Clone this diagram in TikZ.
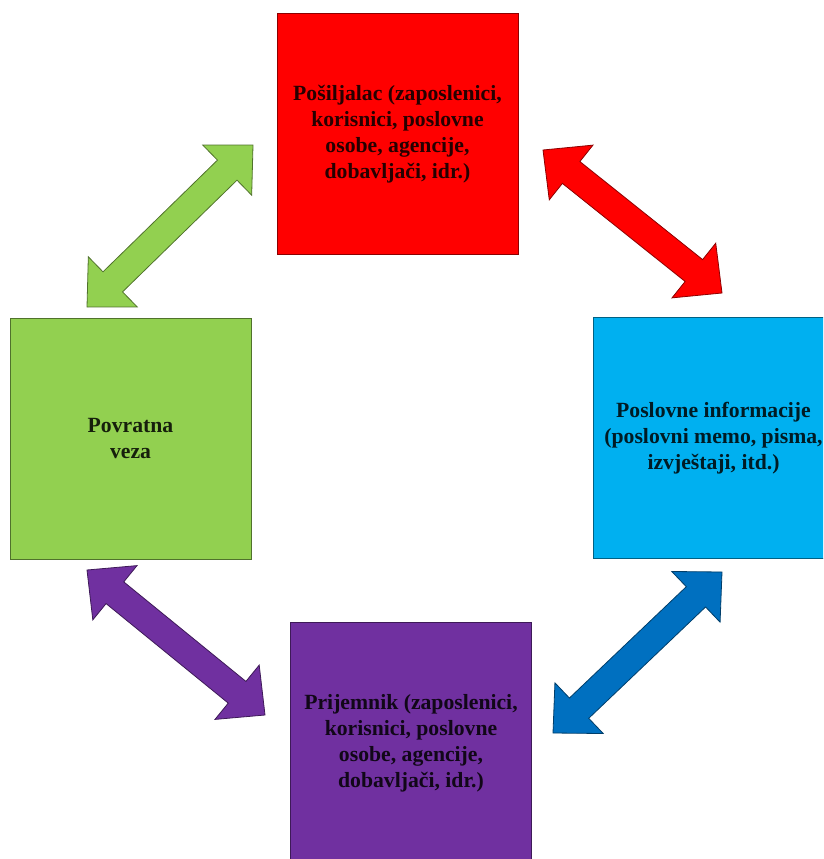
\documentclass[tikz,border=0pt]{standalone}
\usepackage{fontspec}
\setmainfont{Liberation Serif}
\usetikzlibrary{calc}
\definecolor{boxred}{HTML}{FF0000}
\definecolor{boxgreen}{HTML}{92D050}
\definecolor{boxblue}{HTML}{00B0F0}
\definecolor{boxpurple}{HTML}{7030A0}
\definecolor{arrowblue}{HTML}{0070C0}
\tikzset{
  box/.style={draw=#1!55!black, fill=#1, line width=1pt, minimum width=241pt, minimum height=241pt,
    inner sep=0pt, align=center, text=black!85!#1, font=\fontsize{21.7}{26}\selectfont\bfseries},
}
% double headed block arrow: colour, tip, tip
\newcommand{\dblarrow}[3]{
  \coordinate (a1) at ($(#2)!36pt!(#3)$);
  \coordinate (b1) at ($(#3)!36pt!(#2)$);
  \filldraw[fill=#1, draw=#1!55!black, line width=0.8pt, line join=miter] (#2) -- ($(a1)!35pt!90:(#3)$) -- ($(a1)!14pt!90:(#3)$) -- ($(b1)!14pt!-90:(#2)$) -- ($(b1)!35pt!-90:(#2)$) -- (#3) -- ($(b1)!35pt!90:(#2)$) -- ($(b1)!14pt!90:(#2)$) -- ($(a1)!14pt!-90:(#3)$) -- ($(a1)!35pt!-90:(#3)$) -- cycle;
}
\begin{document}
\begin{tikzpicture}[x=1pt, y=-1pt]
        \useasboundingbox (0,0) rectangle (823,859);
        \clip (0,0) rectangle (823,859);
        % boxes
        \node[box=boxred] (sender) at (397.5,134) {Pošiljalac (zaposlenici,\\ korisnici, poslovne\\ osobe, agencije,\\ dobavljači, idr.)};
        \node[box=boxgreen] (feedback) at (130.5,438.5) {Povratna\\ veza};
        \node[box=boxblue] (message) at (713.5,438) {Poslovne informacije\\ (poslovni memo, pisma,\\ izvještaji, itd.)};
        \node[box=boxpurple] (receiver) at (411,743) {Prijemnik (zaposlenici,\\ korisnici, poslovne\\ osobe, agencije,\\ dobavljači, idr.)};
        % arrow tips
        \coordinate (redA) at (543,150);
        \coordinate (redB) at (722,293);
        \coordinate (greenA) at (253,145);
        \coordinate (greenB) at (87,307);
        \coordinate (blueA) at (722,572);
        \coordinate (blueB) at (553,733);
        \coordinate (purpleA) at (87,570);
        \coordinate (purpleB) at (265,715);
        % arrows
        \dblarrow{boxred}{redA}{redB}
        \dblarrow{boxgreen}{greenA}{greenB}
        \dblarrow{arrowblue}{blueA}{blueB}
        \dblarrow{boxpurple}{purpleA}{purpleB}
    \end{tikzpicture}
\end{document}
